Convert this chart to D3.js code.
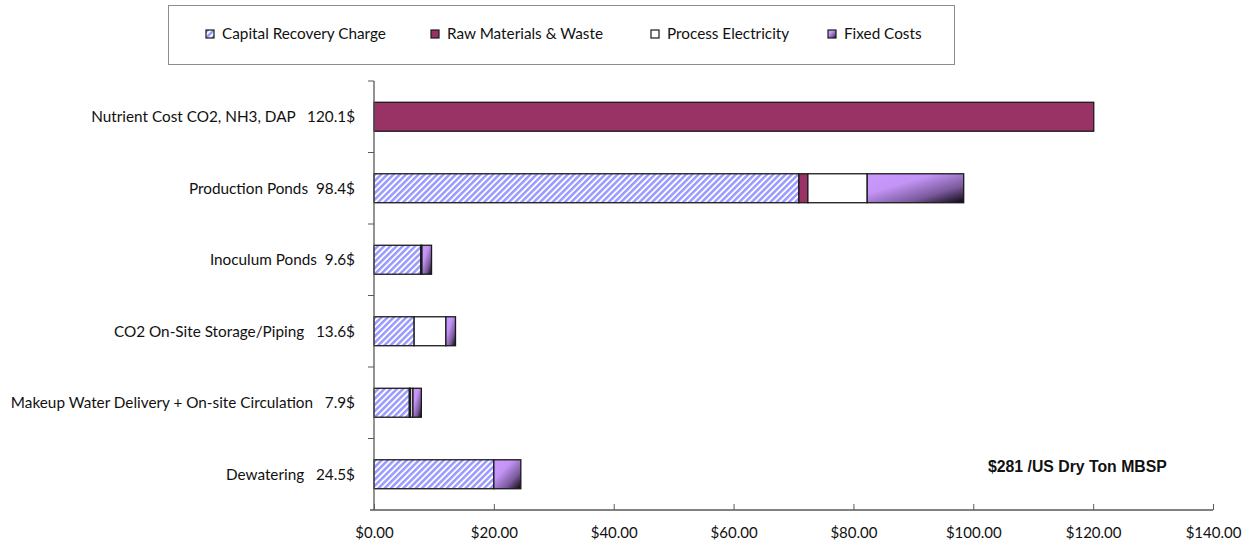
<!DOCTYPE html>
<html>
<head>
<meta charset="utf-8">
<script src="https://cdn.jsdelivr.net/npm/d3@7"></script>
<style>
  html, body { margin: 0; padding: 0; background: #fff; }
  svg text { font-family: Lato, "Open Sans", sans-serif; fill: #111; }
</style>
</head>
<body>
<svg id="chart" width="1252" height="545"></svg>
<script>
// Cost breakdown per cost area, US$ per dry ton
const categories = [
  "Nutrient Cost CO2, NH3, DAP",
  "Production Ponds",
  "Inoculum Ponds",
  "CO2 On-Site Storage/Piping",
  "Makeup Water Delivery + On-site Circulation",
  "Dewatering"
];
const labelGaps = ["   ", "  ", "  ", "   ", "   ", "   "];
const capitalRecovery = [0, 70.9, 7.8, 6.7, 5.9, 20.0];
const rawMaterials    = [120.1, 1.5, 0.2, 0, 0.2, 0];
const electricity     = [0, 9.9, 0, 5.3, 0.4, 0];
const fixedCosts      = [0, 16.1, 1.6, 1.6, 1.4, 4.5];
const seriesNames = ["Capital Recovery Charge", "Raw Materials & Waste", "Process Electricity", "Fixed Costs"];
const xTicks = [0, 20, 40, 60, 80, 100, 120, 140];
const annotation = "$281 /US Dry Ton MBSP";

const svg = d3.select("#chart");
const defs = svg.append("defs");

// diagonal hatch for capital recovery
const hatch = defs.append("pattern")
  .attr("id", "hatch").attr("patternUnits", "userSpaceOnUse")
  .attr("width", 4.4).attr("height", 4.4)
  .attr("patternTransform", "rotate(45)");
hatch.append("rect").attr("width", 4.4).attr("height", 4.4).attr("fill", "#fff");
hatch.append("rect").attr("width", 2.5).attr("height", 4.4).attr("fill", "#9999ff");

// purple-to-black shading for fixed costs
const grad = defs.append("linearGradient")
  .attr("id", "fixedGrad").attr("x1", 0).attr("y1", 0).attr("x2", 1).attr("y2", 1);
grad.append("stop").attr("offset", 0).attr("stop-color", "#cc99ff");
grad.append("stop").attr("offset", 0.35).attr("stop-color", "#c394f5");
grad.append("stop").attr("offset", 0.7).attr("stop-color", "#7a5a9c");
grad.append("stop").attr("offset", 1).attr("stop-color", "#0a0510");

const fills = ["url(#hatch)", "#993366", "#ffffff", "url(#fixedGrad)"];
const seriesValues = [capitalRecovery, rawMaterials, electricity, fixedCosts];

const plotLeft = 374, plotRight = 1213, plotTop = 81, plotBottom = 510;

const x = d3.scaleLinear().domain([0, 140]).range([plotLeft, plotRight]);
const y = d3.scaleBand().domain(categories).range([plotTop, plotBottom]).paddingInner(0.595).paddingOuter(0.2975);

const totals = categories.map((c, i) => d3.sum(seriesValues, s => s[i]));

// stacked bars
const stacked = categories.map((c, i) => {
  let acc = 0;
  return seriesValues.map((s, k) => {
    const seg = { cat: c, k, x0: acc, x1: acc + s[i] };
    acc += s[i];
    return seg;
  }).filter(d => d.x1 > d.x0);
}).flat();

svg.append("g").selectAll("rect").data(stacked).join("rect")
  .attr("x", d => x(d.x0))
  .attr("y", d => y(d.cat))
  .attr("width", d => x(d.x1) - x(d.x0))
  .attr("height", y.bandwidth())
  .attr("fill", d => fills[d.k])
  .attr("stroke", "#1a1a1a")
  .attr("stroke-width", 1.3);

// x axis
const xAxis = d3.axisBottom(x).tickValues(xTicks).tickSizeInner(-6).tickSizeOuter(0)
  .tickPadding(17).tickFormat(d => "$" + d.toFixed(2));
const gx = svg.append("g").attr("transform", `translate(0,${plotBottom})`).call(xAxis);
gx.select(".domain").attr("stroke", "#595959").attr("stroke-width", 1.3)
  .attr("d", `M${plotLeft - 4},0H${plotRight}`);
gx.selectAll(".tick line").attr("stroke", "#595959").attr("stroke-width", 1);
gx.selectAll(".tick text").attr("font-size", 15).attr("fill", "#111")
  .style("font-family", "Lato, 'Open Sans', sans-serif");

// y axis: ticks at band boundaries
const gy = svg.append("g");
gy.append("line").attr("x1", plotLeft).attr("x2", plotLeft).attr("y1", plotTop).attr("y2", plotBottom)
  .attr("stroke", "#595959").attr("stroke-width", 1.3);
const step = y.step();
gy.selectAll("line.tk").data(d3.range(categories.length)).join("line").attr("class", "tk")
  .attr("x1", plotLeft - 6).attr("x2", plotLeft)
  .attr("y1", i => plotTop + i * step).attr("y2", i => plotTop + i * step)
  .attr("stroke", "#595959").attr("stroke-width", 1);

svg.append("g").selectAll("text").data(categories).join("text")
  .attr("x", 355)
  .attr("y", d => y(d) + y.bandwidth() / 2)
  .attr("dy", "0.35em")
  .attr("text-anchor", "end")
  .attr("font-size", 15.3)
  .style("white-space", "pre")
  .text((d, i) => d + labelGaps[i] + totals[i].toFixed(1) + "$");

// annotation
svg.append("text").attr("x", 988).attr("y", 472)
  .attr("font-size", 15.8).attr("font-weight", "bold")
  .style("font-family", "Arial, 'Liberation Sans', sans-serif")
  .text(annotation);

// legend
const lg = svg.append("g");
lg.append("rect").attr("x", 168.5).attr("y", 5.5).attr("width", 786).attr("height", 59)
  .attr("fill", "#fff").attr("stroke", "#8c8c8c").attr("stroke-width", 1);
const legendX = [206, 431, 651, 828];
const item = lg.selectAll("g.item").data(seriesNames).join("g").attr("class", "item")
  .attr("transform", (d, i) => `translate(${legendX[i]},30)`);
item.append("rect").attr("width", 8).attr("height", 8)
  .attr("fill", (d, i) => fills[i]).attr("stroke", "#1a1a1a").attr("stroke-width", 1.2);
item.append("text").attr("x", 16).attr("y", 4).attr("dy", "0.35em")
  .attr("font-size", 15.3).text(d => d);
</script>
</body>
</html>
